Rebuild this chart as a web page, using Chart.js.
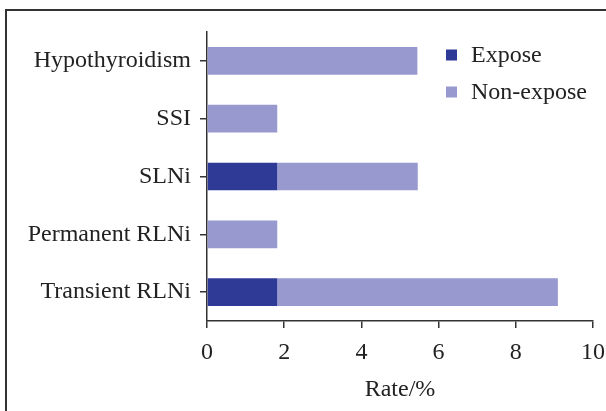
<!DOCTYPE html>
<html>
<head>
<meta charset="utf-8">
<script src="https://cdn.jsdelivr.net/npm/chart.js@4/dist/chart.umd.min.js"></script>
<style>
  html, body { margin: 0; padding: 0; background: #fff; }
  #wrap { position: relative; width: 606px; height: 411px; }
  #frame { position: absolute; left: 5px; top: 9px; right: -2px; bottom: -2px;
           border-top: 2px solid #333; border-left: 2px solid #333; pointer-events: none; }
</style>
</head>
<body>
<div id="wrap">
  <canvas id="myChart" width="606" height="411"></canvas>
  <div id="frame"></div>
</div>
<script>
var categories = ['Hypothyroidism', 'SSI', 'SLNi', 'Permanent RLNi', 'Transient RLNi'];
var expose = [0, 0, 1.82, 0, 1.82];
var nonExpose = [5.45, 1.82, 3.64, 1.82, 7.27];
var xTicks = [0, 2, 4, 6, 8, 10];

var serif = 'Liberation Serif';

// legend drawn inside the plot, top right
var boxLegend = {
    id: 'boxLegend',
    afterDraw: function (chart) {
        var c = chart.ctx;
        c.save();
        c.font = '24px "' + serif + '"';
        c.textBaseline = 'middle';
        chart.data.datasets.forEach(function (ds, i) {
            var y = 55 + i * 37;
            c.fillStyle = ds.backgroundColor;
            c.fillRect(446, y - 5.5, 11, 11);
            c.fillStyle = '#222';
            c.fillText(ds.label, 471, y + 1);
        });
        c.restore();
    }
};

var ctx = document.getElementById('myChart').getContext('2d');
var myChart = new Chart(ctx, {
    type: 'bar',
    data: {
        labels: categories,
        datasets: [{
            label: 'Expose',
            data: expose,
            backgroundColor: '#2f3a96'
        }, {
            label: 'Non-expose',
            data: nonExpose,
            backgroundColor: '#9799cf'
        }]
    },
    plugins: [boxLegend],
    options: {
        indexAxis: 'y',
        responsive: false,
        animation: false,
        barPercentage: 0.48,
        categoryPercentage: 1,
        layout: { padding: { left: 0, top: 32, right: 13, bottom: 0 } },
        plugins: {
            legend: { display: false },
            tooltip: { enabled: false }
        },
        scales: {
            x: {
                stacked: true,
                min: 0,
                max: 10,
                afterBuildTicks: function (scale) {
                    scale.ticks = xTicks.map(function (v) { return { value: v }; });
                },
                afterFit: function (scale) {
                    scale.height = 90;
                    scale.paddingLeft = 0;
                    scale.paddingRight = 0;
                },
                grid: { drawOnChartArea: false, tickLength: 7, color: '#333', lineWidth: 1.5 },
                border: { color: '#333', width: 1.5 },
                ticks: { color: '#222', padding: 10, font: { family: serif, size: 24 } },
                title: {
                    display: true,
                    text: 'Rate/%',
                    color: '#222',
                    padding: { top: 0, bottom: 7 },
                    font: { family: serif, size: 24 }
                }
            },
            y: {
                stacked: true,
                afterFit: function (scale) {
                    scale.width = 207;
                    scale.paddingTop = 0;
                    scale.paddingBottom = 0;
                },
                grid: { drawOnChartArea: false, offset: false, tickLength: 7, color: '#333', lineWidth: 1.5 },
                border: { color: '#333', width: 1.5 },
                ticks: { color: '#222', padding: 9, font: { family: serif, size: 24 } }
            }
        }
    }
});
</script>
</body>
</html>
